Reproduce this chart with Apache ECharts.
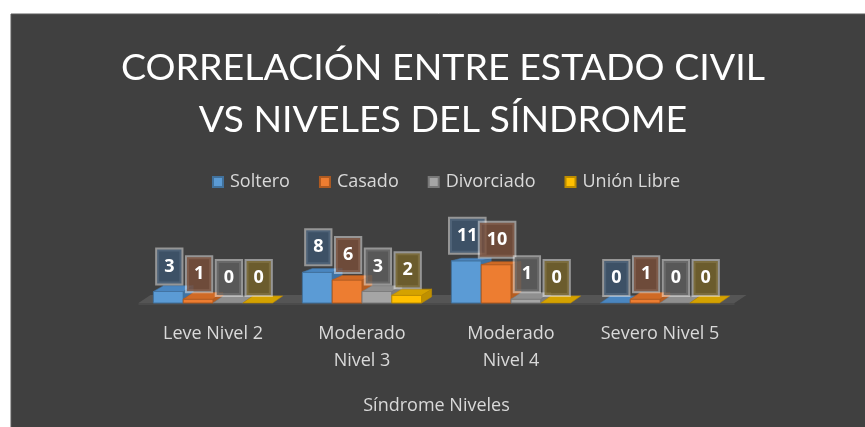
<!DOCTYPE html>
<html>
<head>
<meta charset="utf-8">
<script src="https://cdn.jsdelivr.net/npm/echarts@6/dist/echarts.min.js"></script>
<style>
  html, body { margin: 0; padding: 0; background: #fff; }
  #chart { width: 865px; height: 427px; }
</style>
</head>
<body>
<div id="chart"></div>
<script>
const categories = ['Leve Nivel 2', 'Moderado\nNivel 3', 'Moderado\nNivel 4', 'Severo Nivel 5'];
const seriesNames = ['Soltero', 'Casado', 'Divorciado', 'Unión Libre'];
const soltero = [3, 8, 11, 0];
const casado = [1, 6, 10, 1];
const divorciado = [0, 3, 1, 0];
const unionLibre = [0, 2, 0, 0];

const font = 'Lato, "Open Sans", sans-serif';
const labelFont = '"Open Sans", Lato, sans-serif';
const textColor = '#d9d9d9';

// front, top, side, outline, label box
const shades = [
    { front: '#5b9bd5', top: '#4a86c0', side: '#3f72a3', line: '#41719c', box: 'rgba(60,85,111,0.8)' },
    { front: '#ed7d31', top: '#d06a25', side: '#b65d20', line: '#ae5a21', box: 'rgba(121,78,56,0.8)' },
    { front: '#a5a5a5', top: '#8f8f8f', side: '#7d7d7d', line: '#787878', box: 'rgba(94,94,94,0.8)' },
    { front: '#ffc000', top: '#d4a200', side: '#bf9000', line: '#bc8c00', box: 'rgba(118,99,40,0.8)' },
];

const barRenderer = (idx) => (params, api) => {
    const cat = api.value(0);
    const val = api.value(1);
    const base = api.coord([cat, 0]);
    const top = api.coord([cat, val]);
    const band = api.size([1, 0])[0];
    const w = band * 0.2;
    const x0 = base[0] - 2 * w + idx * w;
    const dx = 10;
    const dy = Math.max(2, 7 - val * 0.4);
    const c = shades[idx];
    const children = [];
    if (val > 0) {
        children.push({
            type: 'polygon',
            shape: { points: [[x0 + w, top[1]], [x0 + w + dx, top[1] - dy], [x0 + w + dx, base[1] - dy], [x0 + w, base[1]]] },
            style: { fill: c.side, stroke: c.line, lineWidth: 0.6 },
        });
        children.push({
            type: 'rect',
            shape: { x: x0, y: top[1], width: w, height: base[1] - top[1] },
            style: { fill: c.front, stroke: c.line, lineWidth: 1 },
        });
    }
    children.push({
        type: 'polygon',
        shape: { points: [[x0, top[1]], [x0 + w, top[1]], [x0 + w + dx, top[1] - dy], [x0 + dx, top[1] - dy]] },
        style: { fill: c.top, stroke: c.line, lineWidth: 0.6 },
    });
    children.push({
        type: 'text',
        z2: 100,
        style: {
            x: x0 + w / 2 + 1,
            y: top[1] - 8,
            text: String(val),
            align: 'center',
            verticalAlign: 'bottom',
            fill: '#fff',
            font: 'bold 18px ' + labelFont,
            backgroundColor: c.box,
            borderColor: 'rgba(255,255,255,0.45)',
            borderWidth: 2,
            padding: [8, 7, 8, 7],
        },
    });
    return { type: 'group', children };
};

const floorRenderer = (params, api) => {
    const band = api.size([1, 0])[0];
    const first = api.coord([0, 0]);
    const last = api.coord([categories.length - 1, 0]);
    const x1 = first[0] - band / 2;
    const x2 = last[0] + band / 2;
    const y = first[1];
    return {
        type: 'group',
        children: [
            {
                type: 'polygon',
                shape: { points: [[x1, y], [x2, y], [x2 + 12, y - 8], [x1 + 12, y - 8]] },
                style: { fill: '#555555' },
            },
            {
                type: 'rect',
                shape: { x: x1, y: y, width: x2 - x1, height: 2 },
                style: { fill: '#4b4b4b' },
            },
        ],
    };
};

const values = [soltero, casado, divorciado, unionLibre];

const chart = echarts.init(document.getElementById('chart'), null, { renderer: 'canvas' });

chart.setOption({
    backgroundColor: '#ffffff',
    animation: false,
    graphic: [{
        type: 'rect',
        z: -10,
        shape: { x: 11, y: 14, width: 860, height: 420 },
        style: { fill: '#404040', stroke: '#5a5a5a', lineWidth: 1 },
    }],
    title: {
        text: 'CORRELACIÓN ENTRE ESTADO CIVIL\nVS NIVELES DEL SÍNDROME',
        left: 438,
        textAlign: 'center',
        top: 37,
        textStyle: { color: '#ffffff', fontSize: 37.5, fontWeight: 'normal', fontFamily: font, lineHeight: 52 },
    },
    legend: {
        data: seriesNames,
        top: 168,
        left: 207,
        itemWidth: 10,
        itemHeight: 10,
        itemGap: 29,
        icon: 'rect',
        textStyle: { color: textColor, fontSize: 18, fontFamily: labelFont, padding: [0, 0, 0, 2] },
    },
    grid: { left: 138.5, right: 130.5, top: 257, bottom: 124 },
    xAxis: {
        type: 'category',
        data: categories,
        axisLine: { show: false },
        axisTick: { show: false },
        axisLabel: { color: textColor, fontSize: 18, fontFamily: labelFont, lineHeight: 27, margin: 17, interval: 0 },
        name: 'Síndrome Niveles',
        nameLocation: 'middle',
        nameGap: 94,
        nameTextStyle: { color: textColor, fontSize: 18, fontFamily: labelFont },
    },
    yAxis: { type: 'value', min: 0, max: 12, show: false },
    series: [
        {
            name: 'floor',
            type: 'custom',
            z: 1,
            silent: true,
            renderItem: floorRenderer,
            data: [[0, 0]],
        },
        ...seriesNames.map((name, i) => ({
            name,
            type: 'custom',
            z: 2,
            itemStyle: { color: shades[i].front, borderColor: shades[i].line, borderWidth: 1 },
            renderItem: barRenderer(i),
            data: values[i].map((v, k) => [k, v]),
        })),
    ],
});
</script>
</body>
</html>
